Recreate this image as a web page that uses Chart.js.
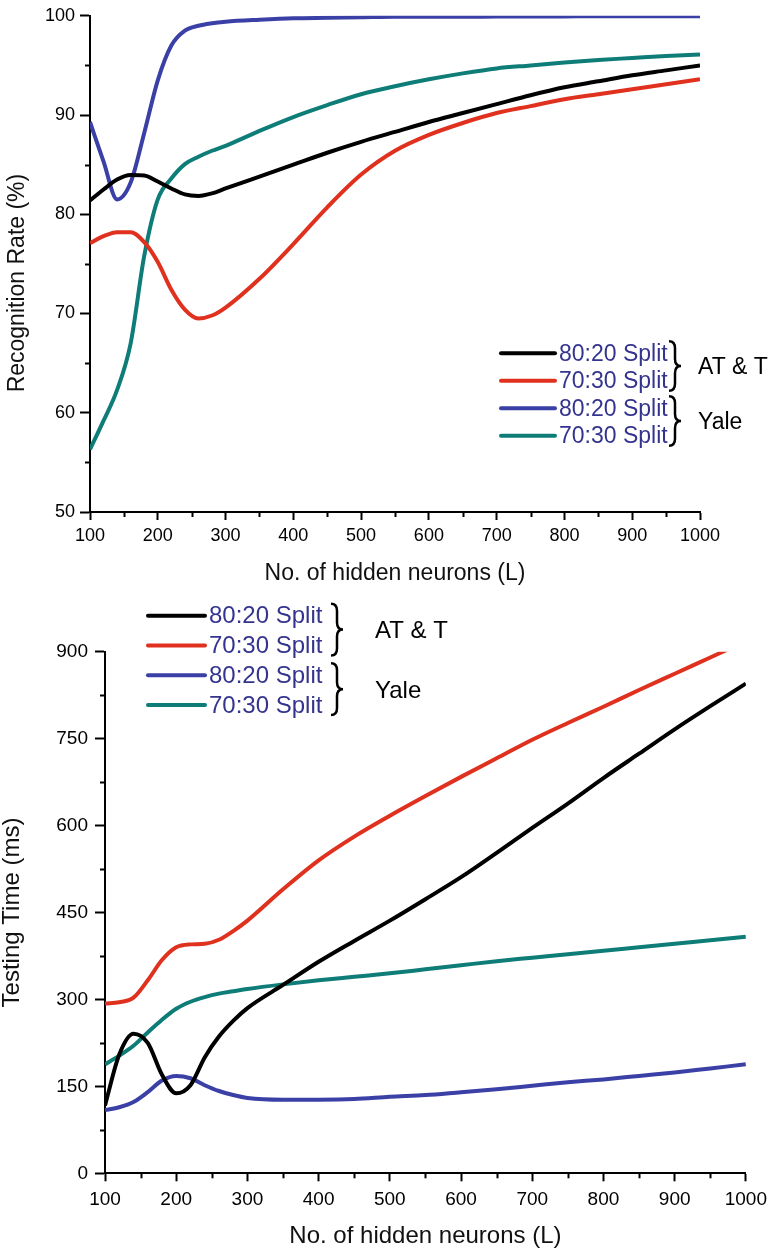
<!DOCTYPE html>
<html>
<head>
<meta charset="utf-8">
<script src="https://cdn.jsdelivr.net/npm/chart.js@4.4.1/dist/chart.umd.min.js"></script>
<style>
  body { margin: 0; background: #fff; }
  canvas { position: absolute; left: 0; }
  #rate { top: 0; }
  #time { top: 600px; }
</style>
</head>
<body>
<canvas id="rate" width="774" height="600"></canvas>
<canvas id="time" width="774" height="652"></canvas>
<script>
// hidden neurons (L)
const neurons = [100, 120, 140, 160, 180, 200, 220, 240, 260, 280, 300, 350, 400, 450, 500, 550, 600, 650, 700, 750, 800, 850, 900, 950, 1000];

// recognition rate (%)
const rateAtt8020 = [81.4, 82.5, 83.5, 83.95, 83.9, 83.3, 82.6, 82.0, 81.85, 82.1, 82.6, 83.8, 85.0, 86.2, 87.3, 88.3, 89.3, 90.2, 91.1, 92.0, 92.8, 93.4, 94.0, 94.5, 95.0];
const rateAtt7030 = [77.1, 77.8, 78.2, 78.2, 77.2, 75.2, 72.4, 70.4, 69.5, 69.8, 70.6, 73.5, 77.0, 80.7, 84.0, 86.4, 88.0, 89.2, 90.2, 90.9, 91.6, 92.1, 92.6, 93.1, 93.6];
const rateYale8020 = [89.3, 85.3, 81.5, 83.2, 88.2, 93.5, 97.0, 98.5, 99.0, 99.25, 99.4, 99.6, 99.75, 99.8, 99.85, 99.9, 99.9, 99.9, 99.92, 99.93, 99.94, 99.95, 99.95, 99.95, 99.95];
const rateYale7030 = [56.3, 59.2, 62.3, 67.0, 75.8, 81.5, 83.6, 85.05, 85.8, 86.4, 86.9, 88.4, 89.8, 91.0, 92.1, 92.9, 93.6, 94.2, 94.7, 95.0, 95.3, 95.55, 95.75, 95.95, 96.1];

// testing time (ms)
const timeAtt8020 = [117, 205, 241, 225, 170, 138, 152, 200, 236, 263, 285, 325, 365, 401, 436, 473, 511, 553, 596, 638, 682, 724, 766, 806, 845];
const timeAtt7030 = [293, 295, 303, 333, 368, 390, 395, 396, 403, 418, 436, 490, 540, 581, 617, 651, 684, 716, 748, 777, 805, 834, 862, 890, 918];
const timeYale8020 = [109, 114, 123, 140, 160, 168, 164, 152, 142, 135, 130, 127, 127, 128, 132, 135, 140, 145, 151, 157, 162, 168, 174, 181, 188];
const timeYale7030 = [188, 203, 220, 243, 265, 284, 296, 304, 310, 314, 318, 326, 333, 339, 345, 352, 359, 366, 372, 378, 384, 390, 396, 402, 408];

const seriesLabels = ['80:20 Split', '70:30 Split', '80:20 Split', '70:30 Split'];
const groupLabels = ['AT & T', 'Yale'];
const colors = ['#000000', '#e0301e', '#3a40a6', '#0e7c77'];

const FONT = '"Liberation Sans", Arial, sans-serif';
Chart.defaults.font.family = FONT;
Chart.defaults.color = '#000';

function pts(ys) {
    return neurons.map((x, i) => ({ x: x, y: ys[i] }));
}

function makeSets(list) {
    return list.map((ys, i) => ({
        label: seriesLabels[i],
        data: pts(ys),
        borderColor: colors[i],
        borderWidth: 4,
        pointRadius: 0,
        cubicInterpolationMode: 'monotone',
        fill: false
    }));
}

function brace(ctx, x, y1, y2, w) {
    const ym = (y1 + y2) / 2;
    const mx = x + w * 0.5;
    const r = 7;
    ctx.beginPath();
    ctx.moveTo(x, y1);
    ctx.quadraticCurveTo(mx, y1, mx, y1 + r);
    ctx.lineTo(mx, ym - r);
    ctx.quadraticCurveTo(mx, ym, x + w, ym);
    ctx.quadraticCurveTo(mx, ym, mx, ym + r);
    ctx.lineTo(mx, y2 - r);
    ctx.quadraticCurveTo(mx, y2, x, y2);
    ctx.stroke();
}

// legend with brackets grouping the two databases
const splitLegend = {
    id: 'splitLegend',
    afterDraw(chart, args, o) {
        const ctx = chart.ctx;
        ctx.save();
        ctx.font = o.size + 'px ' + FONT;
        ctx.textBaseline = 'middle';
        ctx.textAlign = 'left';
        chart.data.datasets.forEach((ds, i) => {
            const y = o.top + i * o.gap;
            ctx.strokeStyle = ds.borderColor;
            ctx.lineWidth = 4;
            ctx.lineCap = 'round';
            ctx.beginPath();
            ctx.moveTo(o.x, y);
            ctx.lineTo(o.x + o.len, y);
            ctx.stroke();
            ctx.fillStyle = '#34348f';
            ctx.fillText(ds.label, o.x + o.len + 4, y + 1);
        });
        ctx.lineCap = 'butt';
        groupLabels.forEach((g, k) => {
            const y1 = o.top + 2 * k * o.gap - 12;
            const y2 = o.top + (2 * k + 1) * o.gap + 10;
            ctx.strokeStyle = '#000';
            ctx.lineWidth = 2.5;
            brace(ctx, o.braceX, y1, y2, 12);
            ctx.fillStyle = '#000';
            ctx.fillText(g, o.groupX, (y1 + y2) / 2 + 2);
        });
        ctx.restore();
    }
};

const minorTicks = {
    id: 'minorTicks',
    afterDraw(chart, args, o) {
        const ctx = chart.ctx;
        ctx.save();
        ctx.strokeStyle = '#000';
        ctx.lineWidth = 2;
        ['x', 'y'].forEach(id => {
            const s = chart.scales[id];
            s.ticks.forEach(t => {
                if (t.value % o[id] === 0) return;
                const p = Math.round(s.getPixelForValue(t.value)) + 0.5;
                ctx.beginPath();
                if (id === 'x') {
                    ctx.moveTo(p, s.top);
                    ctx.lineTo(p, s.top + 5);
                } else {
                    ctx.moveTo(s.right, p);
                    ctx.lineTo(s.right - 5, p);
                }
                ctx.stroke();
            });
        });
        ctx.restore();
    }
};

function axes(cfg) {
    return {
        x: {
            type: 'linear',
            min: 100,
            max: 1000,
            afterFit: s => { s.height = cfg.xHeight; },
            border: { color: '#000', width: 2 },
            grid: {
                drawOnChartArea: false,
                tickLength: 8,
                tickWidth: 2,
                tickColor: c => (c.tick && c.tick.value % 100 === 0) ? '#000' : 'rgba(0,0,0,0)'
            },
            ticks: {
                stepSize: 50,
                autoSkip: false,
                maxRotation: 0,
                padding: cfg.xPad,
                color: '#000',
                font: { size: cfg.tickSize },
                callback: v => v % 100 === 0 ? v : ''
            },
            title: {
                display: true,
                text: 'No. of hidden neurons (L)',
                color: '#111',
                font: { size: cfg.titleSize, lineHeight: 1 },
                padding: { top: 0, bottom: cfg.xTitlePad }
            }
        },
        y: {
            min: cfg.yMin,
            max: cfg.yMax,
            afterFit: s => { s.width = cfg.yWidth; },
            border: { color: '#000', width: 2 },
            grid: {
                drawOnChartArea: false,
                tickLength: 10,
                tickWidth: 2,
                tickColor: c => (c.tick && c.tick.value % cfg.yMajor === 0) ? '#000' : 'rgba(0,0,0,0)'
            },
            ticks: {
                stepSize: cfg.yMajor / 2,
                autoSkip: false,
                padding: cfg.yPad,
                color: '#000',
                font: { size: cfg.tickSize },
                callback: v => v % cfg.yMajor === 0 ? v : ''
            },
            title: {
                display: true,
                text: cfg.yTitle,
                color: '#111',
                font: { size: cfg.titleSize, lineHeight: 1 },
                padding: { top: cfg.yTitlePad, bottom: 0 }
            }
        }
    };
}

new Chart(document.getElementById('rate'), {
    type: 'line',
    data: { datasets: makeSets([rateAtt8020, rateAtt7030, rateYale8020, rateYale7030]) },
    options: {
        responsive: false,
        animation: false,
        layout: { padding: { left: 0, right: 74, top: 15, bottom: 0 } },
        plugins: {
            legend: { display: false },
            tooltip: { enabled: false },
            minorTicks: { x: 100, y: 10 },
            splitLegend: { x: 501, len: 54, top: 353.3, gap: 27.5, braceX: 669, groupX: 698, size: 23 }
        },
        scales: axes({
            xHeight: 88, yWidth: 90, yMin: 50, yMax: 100, yMajor: 10,
            tickSize: 18, titleSize: 23, xPad: 5, yPad: 5, xTitlePad: 15, yTitlePad: 6,
            yTitle: 'Recognition Rate (%)      '
        })
    },
    plugins: [minorTicks, splitLegend]
});

new Chart(document.getElementById('time'), {
    type: 'line',
    data: { datasets: makeSets([timeAtt8020, timeAtt7030, timeYale8020, timeYale7030]) },
    options: {
        responsive: false,
        animation: false,
        layout: { padding: { left: 0, right: 26, top: 51.7, bottom: 0 } },
        plugins: {
            legend: { display: false },
            tooltip: { enabled: false },
            minorTicks: { x: 100, y: 150 },
            splitLegend: { x: 148, len: 57, top: 15.7, gap: 29.8, braceX: 331, groupX: 375, size: 24 }
        },
        scales: axes({
            xHeight: 78.7, yWidth: 105, yMin: 0, yMax: 900, yMajor: 150,
            tickSize: 19, titleSize: 24, xPad: 7, yPad: 7, xTitlePad: 4, yTitlePad: 0,
            yTitle: 'Testing Time (ms)'
        })
    },
    plugins: [minorTicks, splitLegend]
});
</script>
</body>
</html>
